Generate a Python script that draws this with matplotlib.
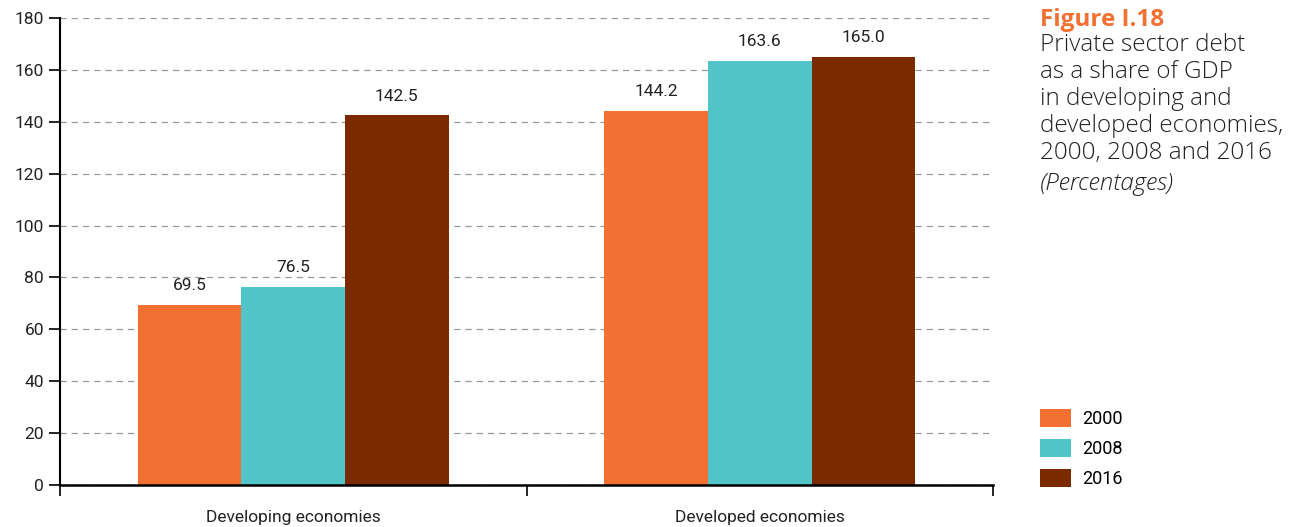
import matplotlib.pyplot as plt
import numpy as np

categories = ['Developing economies', 'Developed economies']
years = ['2000', '2008', '2016']
v2000 = [69.5, 144.2]
v2008 = [76.5, 163.6]
v2016 = [142.5, 165.0]
colors = ['#F37033', '#52C3C6', '#7B2A00']

plt.rcParams['font.family'] = ['Roboto', 'DejaVu Sans']

fig = plt.figure(figsize=(13.06, 5.27), dpi=100)
ax = fig.add_axes([60/1306, 1-485/527, 933/1306, 467/527])

x = np.arange(len(categories))
w = 0.222
for i, (vals, lab, c) in enumerate(zip([v2000, v2008, v2016], years, colors)):
    bars = ax.bar(x + (i-1)*w, vals, w, color=c, label=lab, zorder=3)
    for b, v in zip(bars, vals):
        ax.text(b.get_x() + b.get_width()/2, v + 4.5, '%.1f' % v, ha='center', va='bottom',
                fontsize=12.5, color='#222222')

ax.set_xlim(-0.5, 1.5)
ax.set_ylim(0, 180)
ax.set_yticks(range(0, 181, 20))
ax.set_xticks([-0.5, 0.5, 1.5])
ax.set_xticklabels([])
ax.set_xticks(x, minor=True)
ax.set_xticklabels(categories, minor=True, fontsize=12.5, color='#222222')
ax.tick_params(axis='x', which='minor', length=0, pad=18)
ax.tick_params(axis='x', which='major', length=8, width=1.2, direction='out')
ax.tick_params(axis='y', length=8, width=1.2, labelsize=12.5, labelcolor='#222222')
ax.grid(axis='y', linestyle=(0, (5, 4)), color='#999999', linewidth=0.9, zorder=0)
for s in ['top', 'right']:
    ax.spines[s].set_visible(False)
ax.spines['left'].set_linewidth(1.5)
ax.spines['bottom'].set_linewidth(1.8)
ax.spines['bottom'].set_zorder(4)

leg = fig.legend(loc='upper left', bbox_to_anchor=(1024/1306, 1-393/527), frameon=False,
                 fontsize=13, handlelength=1.7, handleheight=1.1, labelspacing=0.62,
                 handletextpad=0.6)

tx = 1040/1306
tf = ['Open Sans', 'DejaVu Sans']
fig.text(tx, 1-20/527, 'Figure I.18', color='#F37033', fontsize=17.5, fontweight='bold',
         family=tf, va='center')
fig.text(tx, 1-33/527, 'Private sector debt\nas a share of GDP\nin developing and\ndeveloped economies,\n2000, 2008 and 2016',
         color='#222222', fontsize=17.5, family=tf, fontweight='light', va='top', linespacing=1.16)
fig.text(tx, 1-184/527, '(Percentages)', color='#222222', fontsize=17.5, style='italic',
         family=tf, fontweight='light', va='center')

fig.savefig('out.png', dpi=100)
